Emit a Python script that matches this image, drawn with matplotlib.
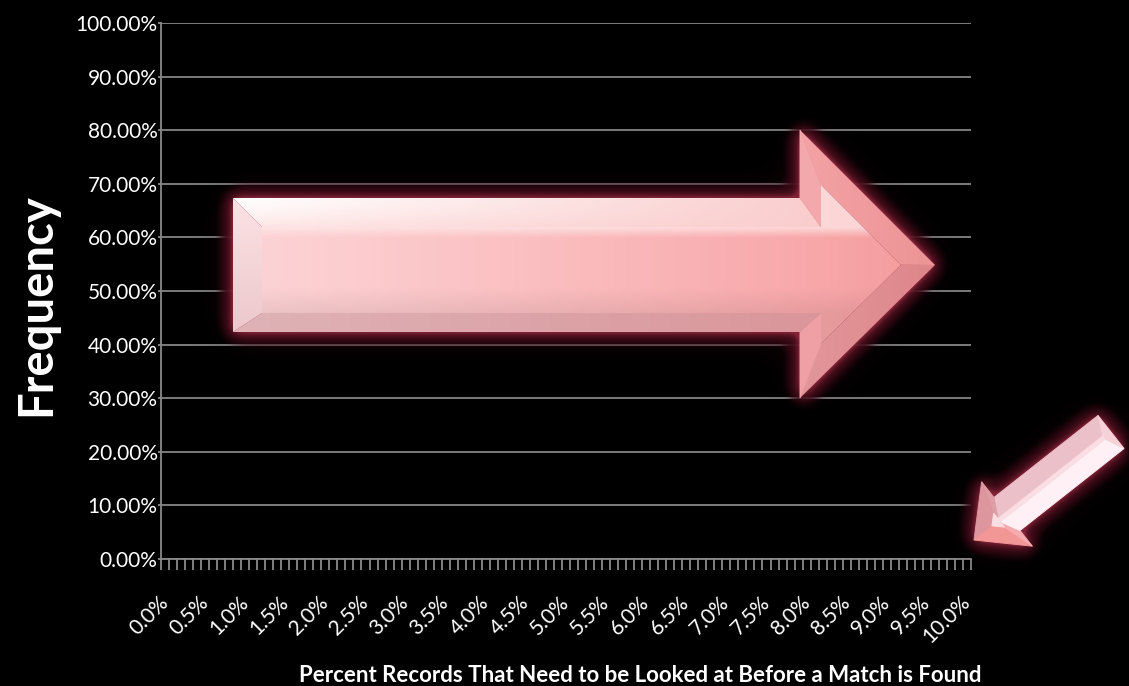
import numpy as np
import matplotlib
matplotlib.use("Agg")
import matplotlib.pyplot as plt
from matplotlib.path import Path
from matplotlib.patches import Polygon, PathPatch
from matplotlib.ticker import FixedLocator

# ---- chart content -------------------------------------------------------
x_title = "Percent Records That Need to be Looked at Before a Match is Found"
y_title = "Frequency"

# 101 bins, 0.0% .. 10.0% in steps of 0.1%; every fifth bin is labelled
bin_count = 101
label_step = 5
x_labels = ["0.0%", "0.5%", "1.0%", "1.5%", "2.0%", "2.5%", "3.0%", "3.5%",
            "4.0%", "4.5%", "5.0%", "5.5%", "6.0%", "6.5%", "7.0%", "7.5%",
            "8.0%", "8.5%", "9.0%", "9.5%", "10.0%"]

y_ticks = [0, 10, 20, 30, 40, 50, 60, 70, 80, 90, 100]
y_labels = ["0.00%", "10.00%", "20.00%", "30.00%", "40.00%", "50.00%",
            "60.00%", "70.00%", "80.00%", "90.00%", "100.00%"]

# ---- figure ---------------------------------------------------------------
W, H = 1129, 686
DPI = 100
plt.rcParams["font.family"] = ["Lato", "DejaVu Sans"]

fig = plt.figure(figsize=(W / DPI, H / DPI), dpi=DPI, facecolor="black")

left, right, top, bottom = 161, 971, 23, 559
ax = fig.add_axes([left / W, 1 - bottom / H, (right - left) / W, (bottom - top) / H])
ax.set_facecolor("black")

grey = "#8a8a8a"
ax.set_xlim(-0.5, bin_count - 0.5)
ax.set_ylim(0, 100)

ax.set_yticks(y_ticks)
ax.set_yticklabels(y_labels)
ax.yaxis.grid(True, color="#858585", linewidth=1.3)
ax.set_axisbelow(True)
ax.tick_params(axis="y", colors=grey, labelcolor="white", labelsize=15,
               length=2, width=1.3, pad=0.5)

label_pos = list(range(0, bin_count, label_step))
ax.set_xticks(label_pos)
ax.set_xticklabels(x_labels, rotation=45, ha="right", va="center",
                   rotation_mode="anchor")
ax.tick_params(axis="x", which="major", length=0, pad=29,
               labelcolor="white", labelsize=15)
ax.xaxis.set_minor_locator(FixedLocator(np.arange(bin_count + 1) - 0.5))
ax.tick_params(axis="x", which="minor", length=8, width=1.3, color=grey)

for side in ("top", "right"):
    ax.spines[side].set_visible(False)
for side in ("left", "bottom"):
    ax.spines[side].set_color(grey)
    ax.spines[side].set_linewidth(1.3)

fig.text(36 / W, 1 - 305 / H, y_title, rotation=90, color="white",
         fontsize=34, fontweight="bold", ha="center", va="center")
fig.text(640 / W, 1 - 675 / H, x_title, color="white",
         fontsize=16, fontweight="bold", ha="center", va="center")

# ---- decorative bevelled arrows (pixel coordinates) -----------------------
ov = fig.add_axes([0, 0, 1, 1], zorder=5)
ov.set_xlim(0, W)
ov.set_ylim(H, 0)
ov.axis("off")
ov.patch.set_alpha(0)


def inset_polygon(pts, dists):
    """Offset every edge of a closed polygon inward by its own distance."""
    pts = np.asarray(pts, float)
    n = len(pts)
    area = 0.5 * np.sum(pts[:, 0] * np.roll(pts[:, 1], -1) - np.roll(pts[:, 0], -1) * pts[:, 1])
    sign = 1.0 if area > 0 else -1.0
    normals = []
    for i in range(n):
        d = pts[(i + 1) % n] - pts[i]
        d = d / np.hypot(*d)
        normals.append(sign * np.array([-d[1], d[0]]))
    inner = []
    for i in range(n):
        n1, n2 = normals[i - 1], normals[i]
        q = np.linalg.solve(np.array([n1, n2]), np.array([dists[i - 1], dists[i]]))
        inner.append(pts[i] + q)
    return np.array(inner)


def blur(arr, sigma):
    r = int(3 * sigma)
    k = np.exp(-0.5 * (np.arange(-r, r + 1) / sigma) ** 2)
    k /= k.sum()
    out = np.apply_along_axis(lambda v: np.convolve(v, k, mode="same"), 0, arr)
    return np.apply_along_axis(lambda v: np.convolve(v, k, mode="same"), 1, out)


def rgb(*c):
    return np.array(c, float) / 255.0


def lerp(c1, c2, t):
    t = np.clip(t, 0, 1)[..., None]
    return c1 + (c2 - c1) * t


def fill(poly, color, z=3):
    poly = np.asarray(poly, float)
    if callable(color):
        x0, y0 = poly[:, 0].min(), poly[:, 1].min()
        x1, y1 = poly[:, 0].max(), poly[:, 1].max()
        nx = max(int(x1 - x0) + 2, 2)
        ny = max(int(y1 - y0) + 2, 2)
        px, py = np.meshgrid(np.linspace(x0, x1, nx), np.linspace(y0, y1, ny))
        img = np.clip(color(px, py), 0, 1)
        clip = PathPatch(Path(poly), facecolor="none", edgecolor="none",
                         transform=ov.transData)
        ov.add_patch(clip)
        im = ov.imshow(img, extent=(x0, x1, y1, y0), zorder=z,
                       interpolation="bilinear")
        im.set_clip_path(clip)
    else:
        ov.add_patch(Polygon(poly, closed=True, facecolor=color, edgecolor=color,
                             linewidth=0.7, zorder=z))


def draw_bevel(pts, dists, face_colors, front_color):
    inner = inset_polygon(pts, dists)
    n = len(pts)
    for i in range(n):
        j = (i + 1) % n
        fill([pts[i], pts[j], inner[j], inner[i]], face_colors[i])
    fill(inner, front_color, z=3.5)


# big arrow pointing right
big = np.array([(233, 198), (800, 198), (800, 130), (935, 265),
                (800, 398), (800, 332), (233, 332)], float)
big_inset = [29, 21, 24, 24, 21, 19, 29]

# small arrow pointing down-left
tail = np.array([1111.0, 432.0])
tip = np.array([974.0, 540.0])
u = (tip - tail) / np.hypot(*(tip - tail))
nrm = np.array([-u[1], u[0]])
base = tip - u * 42
shaft_w, head_w = 21, 41
small = np.array([tail + nrm * shaft_w, base + nrm * shaft_w, base + nrm * head_w, tip,
                  base - nrm * head_w, base - nrm * shaft_w, tail - nrm * shaft_w])
small_inset = [19, 10, 16, 16, 10, 19, 9]

# dark red glow behind both arrows
yy, xx = np.mgrid[0:H, 0:W]
grid = np.column_stack([xx.ravel() + 0.5, yy.ravel() + 0.5])
mask = np.zeros(H * W)
for poly in (big, small):
    mask = np.maximum(mask, Path(poly).contains_points(grid))
mask = mask.reshape(H, W)
spread = (blur(mask, 8) > 0.05).astype(float)
core = blur(spread, 4)
halo = blur(mask, 18)
alpha = np.clip(np.maximum(core * 0.95, halo * 0.7), 0, 1)
warm = np.clip(blur(mask, 6) * 2.0, 0, 1) ** 1.5
glow = np.zeros((H, W, 4))
glow[..., 0] = (55 + 85 * warm) / 255
glow[..., 1] = (8 + 30 * warm) / 255
glow[..., 2] = (20 + 40 * warm) / 255
glow[..., 3] = alpha
ov.imshow(glow, extent=(0, W, H, 0), interpolation="bilinear", zorder=1)


# big arrow shading
def big_top(px, py):
    s = (py - 198) / 30.0
    t = (px - 260) / 560.0
    hi = lerp(rgb(255, 252, 252), rgb(254, 228, 228), s ** 1.5)
    return lerp(hi, rgb(250, 205, 205), t)


def big_front(px, py):
    t = np.clip((px - 262) / (830 - 262), 0, 1)
    col = lerp(rgb(253, 210, 212), rgb(248, 166, 168), t ** 1.1)
    tip_t = np.clip((px - 830) / 70.0, 0, 1)
    col = lerp(col, rgb(244, 158, 160), tip_t)
    s = np.clip((py - 227) / (313 - 227), 0, 1)
    col = lerp(col, rgb(255, 236, 236), np.clip(1 - s / 0.12, 0, 1) * 0.7)
    col = lerp(col, col * 0.93, np.clip((s - 0.7) / 0.3, 0, 1))
    return col


def big_bottom(px, py):
    t = (px - 250) / 560.0
    return lerp(rgb(222, 178, 182), rgb(218, 150, 154), t)


def big_left(px, py):
    s = (py - 198) / 134.0
    return lerp(rgb(252, 226, 228), rgb(236, 200, 204), s)


def head_upper(px, py):
    s = (px - 800) / 135.0
    return lerp(rgb(244, 162, 165), rgb(236, 148, 150), s)


def head_lower(px, py):
    s = (px - 800) / 135.0
    return lerp(rgb(226, 150, 154), rgb(222, 134, 138), s)


big_faces = [big_top, rgb(243, 168, 172), head_upper, head_lower,
             rgb(238, 160, 165), big_bottom, big_left]
draw_bevel(big, big_inset, big_faces, big_front)

# small arrow shading
small_faces = [rgb(236, 192, 200), rgb(222, 158, 166), rgb(222, 150, 158),
               rgb(242, 150, 150), rgb(245, 172, 176), rgb(255, 240, 245),
               rgb(246, 210, 216)]
draw_bevel(small, small_inset, small_faces, rgb(250, 222, 228))

fig.savefig("out.png", dpi=DPI, facecolor="black")
